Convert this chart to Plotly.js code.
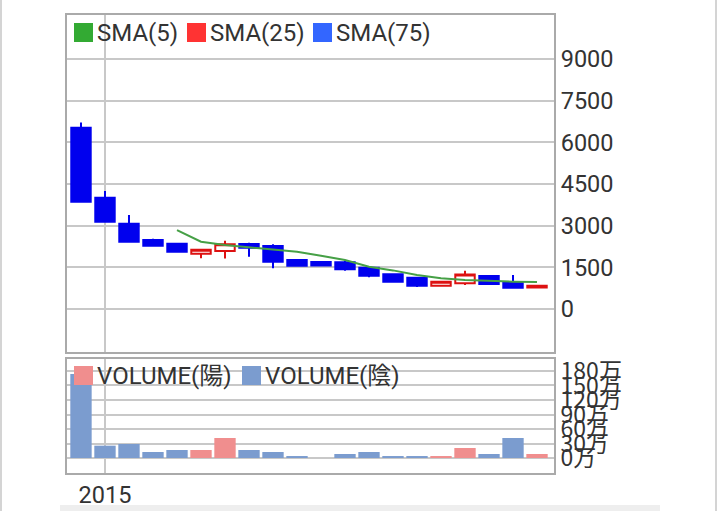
<!DOCTYPE html>
<html><head><meta charset="utf-8">
<script src="https://cdn.plot.ly/plotly-3.0.1.min.js"></script>
<style>
html,body{margin:0;padding:0;background:#fff;}
#wrap{position:relative;width:720px;height:511px;overflow:hidden;}
#chart{position:absolute;left:0;top:0;width:720px;height:511px;}
.edgeL{position:absolute;left:0;top:0;width:2px;height:511px;background:#d4d4d4;}
.edgeR{position:absolute;left:715px;top:0;width:2px;height:511px;background:#d4d4d4;}
.strip{position:absolute;left:60px;top:505px;width:600px;height:6px;background:#eeeeee;}
</style></head>
<body>
<div id="wrap"><div id="chart"></div><div class="edgeL"></div><div class="edgeR"></div><div class="strip"></div></div>
<script>
// ---- data ----
const periods = [0,1,2,3,4,5,6,7,8,9,10,11,12,13,14,15,16,17,18,19];
const tickPositions = [1];
const tickLabels = ['2015'];
const openP  = [6522,4004,3069,2482,2349,1990,2090,2338,2266,1763,1690,1679,1487,1247,1127, 840, 925,1187, 960, 770];
const highP  = [6715,4244,3381,2529,2360,2133,2460,2385,2327,1770,1701,1727,1522,1250,1130,1000,1380,1190,1223, 874];
const lowP   = [3824,3104,2385,2241,2025,1823,1815,1881,1464,1521,1558,1379,1140, 946, 791, 835, 863, 863, 744, 760];
const closeP = [3860,3141,2421,2277,2061,2133,2330,2205,1701,1558,1570,1428,1199, 983, 839, 980,1245, 899, 766, 840];
const sma5   = [null,null,null,null,2842,2421,2302,2218,2147,2061,1917,1763,1522,1390,1223,1104,1043,1010,985,975];
const volume = [1738000,255000,290000,124000,166000,166000,414000,166000,124000,41000,0,83000,124000,41000,41000,41000,207000,83000,414000,83000];
const priceTicks = [0,1500,3000,4500,6000,7500,9000];
const priceTickLabels = ['0','1500','3000','4500','6000','7500','9000'];
const volTicks = [0,300000,600000,900000,1200000,1500000,1800000];
const volTickLabels = ['0万','30万','60万','90万','120万','150万','180万'];
const priceLegend = ['SMA(5)','SMA(25)','SMA(75)'];
const priceLegendColors = ['#33aa33','#ff3333','#3366ff'];
const volLegend = ['VOLUME(陽)','VOLUME(陰)'];
const volLegendColors = ['#f08e8e','#7b9ccf'];

// ---- colors ----
const UP = '#dd1111', DOWN = '#0000ee';
const volColors = periods.map((_, i) => closeP[i] > openP[i] ? volLegendColors[0] : volLegendColors[1]);

const traces = [
  {type:'candlestick', x:periods, open:openP, high:highP, low:lowP, close:closeP,
   xaxis:'x', yaxis:'y', whiskerwidth:0, hoverinfo:'skip',
   increasing:{line:{color:UP, width:2}, fillcolor:'#ffffff'},
   decreasing:{line:{color:DOWN, width:2}, fillcolor:DOWN}},
  {type:'scatter', mode:'lines', x:periods, y:sma5, xaxis:'x', yaxis:'y',
   line:{color:'#46a046', width:2}, hoverinfo:'skip', connectgaps:false},
  {type:'bar', x:periods, y:volume, xaxis:'x', yaxis:'y2',
   marker:{color:volColors, line:{width:0}}, hoverinfo:'skip'}
];

// plot-area geometry helpers (paper coords)
const L = 67, R = 554, T = 15, B = 473;
const px = v => (v - L) / (R - L);
const py = v => (B - v) / (B - T);

const shapes = [], annotations = [];
const priceLegX = [74, 187, 313];
priceLegend.forEach((t, i) => {
  shapes.push({type:'rect', xref:'paper', yref:'paper', x0:px(priceLegX[i]), x1:px(priceLegX[i]+19),
    y0:py(42), y1:py(23), fillcolor:priceLegendColors[i], line:{width:0}});
  annotations.push({xref:'paper', yref:'paper', x:px(priceLegX[i]+22), y:py(33), xanchor:'left', yanchor:'middle',
    text:t, showarrow:false, font:{size:24, color:'#333'}, borderpad:0});
});
const volLegX = [74, 242];
volLegend.forEach((t, i) => {
  shapes.push({type:'rect', xref:'paper', yref:'paper', x0:px(volLegX[i]), x1:px(volLegX[i]+19),
    y0:py(385), y1:py(366), fillcolor:volLegendColors[i], line:{width:0}});
  annotations.push({xref:'paper', yref:'paper', x:px(volLegX[i]+22), y:py(376), xanchor:'left', yanchor:'middle',
    text:t, showarrow:false, font:{size:24, color:'#333'}, borderpad:0});
});

const grid = '#c8c8c8', border = '#aaaaaa';
const layout = {
  width:720, height:511,
  margin:{l:L, r:720-R, t:T, b:511-B, pad:0},
  paper_bgcolor:'rgba(0,0,0,0)', plot_bgcolor:'#ffffff',
  showlegend:false, dragmode:false,
  boxgap:0.19, boxgroupgap:0, bargap:0.11,
  font:{family:'Roboto, "Noto Sans CJK JP", sans-serif', size:23.5, color:'#333'},
  xaxis:{range:[-0.583, 19.708], anchor:'y2', tickmode:'array', tickvals:tickPositions, ticktext:tickLabels,
    showgrid:true, gridcolor:grid, gridwidth:2, showline:true, mirror:'all', linecolor:border, linewidth:2,
    ticks:'', zeroline:false, rangeslider:{visible:false}, fixedrange:true},
  yaxis:{domain:[py(352), 1], range:[-1548, 10584], side:'right', anchor:'x', tickmode:'array',
    tickvals:priceTicks, ticktext:priceTickLabels, showgrid:true, gridcolor:grid, gridwidth:2,
    showline:true, mirror:true, linecolor:border, linewidth:2, zeroline:false, ticks:'', fixedrange:true},
  yaxis2:{domain:[0, py(359)], range:[-310000, 2048000], side:'right', anchor:'x', tickmode:'array',
    tickvals:volTicks, ticktext:volTickLabels, showgrid:true, gridcolor:grid, gridwidth:2,
    showline:true, mirror:true, linecolor:border, linewidth:2, zeroline:false, ticks:'', fixedrange:true,
    tickfont:{family:'"Liberation Sans Narrow", "Arial Narrow", "Noto Sans CJK JP", sans-serif', size:23, color:'#333'}},
  shapes:shapes, annotations:annotations
};
Plotly.newPlot('chart', traces, layout, {displayModeBar:false, staticPlot:true});
</script>
</body></html>
